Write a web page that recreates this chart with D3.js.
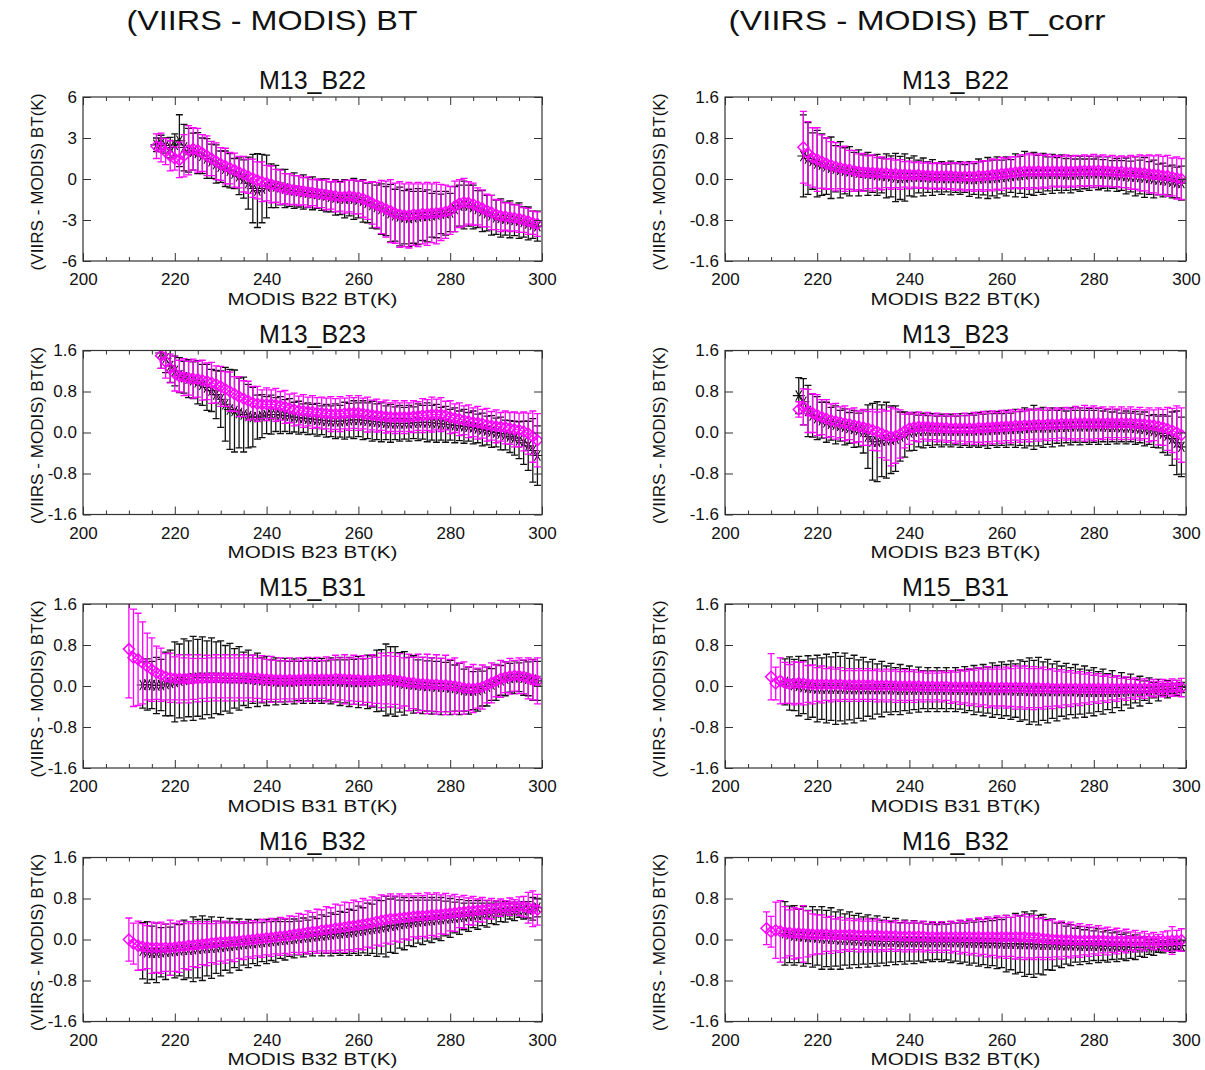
<!DOCTYPE html>
<html>
<head>
<meta charset="utf-8">
<script src="https://cdn.jsdelivr.net/npm/d3@7"></script>
<style>
  body { margin: 0; background: #fff; }
  svg { display: block; font-family: 'Liberation Sans', Arial, Helvetica, sans-serif; }
</style>
</head>
<body>
<svg id="chart" width="1205" height="1070"></svg>
<script>
// ---- labels / ticks ----
const columnTitles = ['(VIIRS - MODIS) BT', '(VIIRS - MODIS) BT_corr'];
const rowTitles = ['M13_B22', 'M13_B23', 'M15_B31', 'M16_B32'];
const modisBands = ['B22', 'B23', 'B31', 'B32'];
const xTicks = [200, 220, 240, 260, 280, 300];
const yTicksWide = [-6, -3, 0, 3, 6];
const yTicksNarrow = [-1.6, -0.8, 0, 0.8, 1.6];

// ---- M13_B22, BT (black = asterisks, pink = diamonds), 1 K bins ----
const b22BtBlackStart = 216;
const b22BtBlack = [2.5,2.6,2.45,2.3,2.5,2.8,2.3,2.1,2.0,1.9, 1.7,1.5,1.3,1.1,0.9,0.75,0.6,0.4,0.2,0.0,
  -0.3,-0.7,-0.85,-0.7,-0.55,-0.5,-0.55,-0.6,-0.7,-0.8, -0.85,-0.9,-0.95,-1.0,-1.05,-1.1,-1.15,-1.2,-1.3,-1.35,
  -1.4,-1.45,-1.4,-1.45,-1.5,-1.6,-1.75,-1.9,-2.05,-2.2, -2.35,-2.5,-2.65,-2.75,-2.8,-2.85,-2.8,-2.75,-2.7,-2.7,
  -2.65,-2.6,-2.55,-2.5,-2.45,-2.2,-1.95,-1.9,-1.95,-2.05, -2.2,-2.35,-2.5,-2.65,-2.8,-2.85,-2.9,-2.95,-3.0,-3.05,
  -3.15,-3.25,-3.35,-3.45];
const b22BtBlackSd = [0.5,0.6,0.55,0.75,0.8,1.9,1.7,1.6,1.35,1.5, 1.3,1.45,1.25,1.4,1.15,1.3,1.25,1.1,1.35,1.4,
  1.9,2.5,2.7,2.5,2.3,1.6,1.55,1.3,1.4,1.2, 1.3,1.15,1.25,1.1,1.2,1.05,1.15,1.2,1.1,1.3,
  1.2,1.4,1.3,1.5,1.35,1.55,1.45,1.7,1.6,1.85, 1.8,2.1,1.9,2.15,1.95,2.1,1.9,2.05,1.8,1.9,
  1.6,1.7,1.45,1.6,1.4,1.65,1.5,1.75,1.5,1.6, 1.35,1.5,1.3,1.45,1.25,1.4,1.2,1.35,1.15,1.3,
  1.1,1.2,1.0,1.1];
const b22BtPinkStart = 216;
const b22BtPink = [2.4,2.3,2.0,1.7,1.5,1.4,1.7,2.1,2.2,2.1, 1.9,1.7,1.5,1.3,1.1,0.95,0.8,0.65,0.5,0.35,
  0.2,0.05,-0.1,-0.2,-0.3,-0.4,-0.5,-0.6,-0.7,-0.75, -0.8,-0.85,-0.9,-0.95,-1.0,-1.05,-1.1,-1.15,-1.2,-1.25,
  -1.3,-1.3,-1.25,-1.3,-1.35,-1.45,-1.6,-1.75,-1.9,-2.05, -2.2,-2.35,-2.5,-2.6,-2.65,-2.65,-2.6,-2.6,-2.55,-2.55,
  -2.5,-2.5,-2.45,-2.4,-2.3,-2.0,-1.8,-1.7,-1.75,-1.85, -2.0,-2.15,-2.3,-2.45,-2.6,-2.7,-2.75,-2.8,-2.85,-2.9,
  -3.0,-3.1,-3.2,-3.3];
const b22BtPinkSd = [0.9,1.05,0.95,1.1,0.85,1.3,1.55,1.8,1.55,1.6, 1.35,1.45,1.25,1.35,1.2,1.3,1.15,1.25,1.15,1.3,
  1.25,1.4,1.35,1.45,1.3,1.35,1.2,1.25,1.1,1.15, 1.05,1.1,1.0,1.1,0.95,1.05,1.0,1.1,1.0,1.15,
  1.05,1.2,1.15,1.25,1.2,1.35,1.35,1.55,1.65,1.95, 2.05,2.3,2.2,2.4,2.3,2.4,2.25,2.35,2.2,2.3,
  2.15,2.25,2.05,1.95,1.75,1.85,1.75,1.75,1.55,1.55, 1.35,1.35,1.2,1.25,1.1,1.15,1.0,1.05,0.95,1.0,
  0.9,0.95,0.85,0.9];

// ---- M13_B22, BT_corr ----
const b22CorrBlackStart = 217;
const b22CorrBlack = [0.45,0.4,0.35,0.3,0.28,0.25,0.22,0.2,0.18,0.16, 0.15,0.14,0.12,0.12,0.1,0.1,0.08,0.07,0.06,0.05,
  0.03,0.02,0.03,0.04,0.05,0.05,0.04,0.04,0.03,0.03, 0.02,0.02,0.02,0.02,0.02,0.01,0.0,0.0,0.01,0.02,
  0.02,0.02,0.03,0.04,0.05,0.06,0.07,0.08,0.09,0.1, 0.1,0.1,0.1,0.1,0.1,0.1,0.1,0.09,0.09,0.09,
  0.1,0.1,0.11,0.11,0.11,0.1,0.1,0.09,0.08,0.07, 0.06,0.05,0.05,0.04,0.03,0.02,0.0,-0.01,-0.02,-0.03,
  -0.05,-0.07,-0.08];
const b22CorrBlackSd = [0.8,0.7,0.55,0.65,0.6,0.55,0.6,0.45,0.55,0.45, 0.48,0.38,0.45,0.35,0.42,0.36,0.4,0.34,0.43,0.4,
  0.47,0.42,0.46,0.37,0.4,0.32,0.37,0.3,0.35,0.28, 0.32,0.27,0.33,0.28,0.32,0.27,0.34,0.3,0.38,0.33,
  0.4,0.35,0.4,0.33,0.38,0.32,0.42,0.36,0.45,0.4, 0.42,0.36,0.4,0.33,0.38,0.32,0.37,0.31,0.36,0.3,
  0.34,0.29,0.33,0.28,0.32,0.28,0.33,0.27,0.32,0.29, 0.35,0.3,0.38,0.33,0.39,0.32,0.37,0.3,0.33,0.28,
  0.32,0.3,0.33];
const b22CorrPinkStart = 217;
const b22CorrPink = [0.62,0.5,0.42,0.38,0.34,0.3,0.27,0.24,0.22,0.2, 0.18,0.16,0.14,0.13,0.13,0.12,0.12,0.11,0.11,0.1,
  0.1,0.09,0.09,0.08,0.08,0.08,0.07,0.07,0.06,0.06, 0.06,0.06,0.06,0.05,0.05,0.05,0.05,0.05,0.06,0.06,
  0.07,0.08,0.09,0.1,0.11,0.12,0.13,0.14,0.15,0.15, 0.15,0.15,0.15,0.15,0.15,0.15,0.15,0.15,0.15,0.15,
  0.16,0.16,0.16,0.16,0.16,0.16,0.15,0.15,0.14,0.14, 0.13,0.13,0.12,0.12,0.11,0.1,0.09,0.08,0.07,0.06,
  0.04,0.02,0.0];
const b22CorrPinkSd = [0.7,0.62,0.58,0.62,0.52,0.5,0.46,0.47,0.41,0.44, 0.38,0.4,0.35,0.37,0.32,0.35,0.3,0.32,0.28,0.3,
  0.27,0.29,0.25,0.27,0.24,0.26,0.24,0.26,0.24,0.26, 0.24,0.26,0.25,0.27,0.25,0.28,0.26,0.29,0.27,0.3,
  0.28,0.31,0.29,0.32,0.29,0.31,0.3,0.33,0.32,0.35, 0.32,0.34,0.31,0.33,0.29,0.31,0.29,0.32,0.29,0.31,
  0.29,0.31,0.29,0.32,0.29,0.31,0.29,0.31,0.29,0.31, 0.3,0.33,0.32,0.35,0.34,0.37,0.36,0.39,0.37,0.4,
  0.37,0.41,0.4];

// ---- M13_B23, BT ----
const b23BtBlackStart = 217;
const b23BtBlack = [1.55,1.45,1.3,1.2,1.12,1.08,1.05,1.02,0.98,0.93, 0.88,0.82,0.74,0.65,0.55,0.45,0.42,0.38,0.35,0.32,
  0.3,0.3,0.32,0.34,0.35,0.35,0.34,0.33,0.32,0.3, 0.29,0.28,0.27,0.26,0.25,0.24,0.23,0.22,0.22,0.22,
  0.23,0.24,0.25,0.25,0.24,0.23,0.22,0.21,0.2,0.19, 0.18,0.18,0.18,0.18,0.18,0.19,0.2,0.2,0.2,0.19,
  0.18,0.17,0.16,0.15,0.14,0.13,0.12,0.11,0.1,0.08, 0.06,0.04,0.02,0.0,-0.02,-0.05,-0.08,-0.11,-0.15,-0.2,
  -0.26,-0.35,-0.45];
const b23BtBlackSd = [0.3,0.28,0.32,0.29,0.34,0.31,0.37,0.36,0.42,0.4, 0.45,0.41,0.47,0.55,0.72,0.78,0.8,0.68,0.73,0.62,
  0.58,0.43,0.42,0.36,0.38,0.33,0.36,0.31,0.34,0.29, 0.32,0.28,0.31,0.29,0.32,0.28,0.32,0.3,0.34,0.31,
  0.36,0.33,0.37,0.33,0.38,0.35,0.39,0.35,0.38,0.33, 0.37,0.32,0.35,0.31,0.35,0.31,0.36,0.33,0.38,0.34,
  0.37,0.32,0.35,0.3,0.34,0.29,0.33,0.28,0.32,0.28, 0.32,0.28,0.31,0.28,0.32,0.29,0.31,0.33,0.36,0.42,
  0.48,0.62,0.58];
const b23BtPinkStart = 217;
const b23BtPink = [1.5,1.38,1.25,1.15,1.1,1.08,1.06,1.05,1.04,1.02, 1.0,0.97,0.94,0.9,0.85,0.8,0.75,0.7,0.66,0.62,
  0.58,0.56,0.55,0.55,0.55,0.54,0.52,0.5,0.47,0.45, 0.43,0.42,0.41,0.4,0.39,0.38,0.37,0.36,0.36,0.36,
  0.37,0.38,0.38,0.38,0.37,0.35,0.34,0.33,0.32,0.31, 0.3,0.3,0.3,0.3,0.3,0.31,0.32,0.33,0.34,0.35,
  0.35,0.35,0.33,0.3,0.28,0.26,0.24,0.22,0.2,0.19, 0.17,0.15,0.13,0.12,0.11,0.1,0.08,0.06,0.05,0.02,
  -0.02,-0.08,-0.15];
const b23BtPinkSd = [0.25,0.32,0.28,0.34,0.31,0.36,0.33,0.38,0.35,0.39, 0.36,0.4,0.36,0.39,0.34,0.38,0.34,0.39,0.35,0.38,
  0.32,0.34,0.28,0.32,0.28,0.32,0.28,0.32,0.28,0.32, 0.28,0.32,0.28,0.32,0.29,0.31,0.3,0.34,0.3,0.34,
  0.3,0.34,0.3,0.34,0.3,0.34,0.29,0.32,0.28,0.32, 0.28,0.32,0.28,0.32,0.28,0.31,0.28,0.33,0.3,0.34,
  0.3,0.33,0.28,0.32,0.28,0.32,0.28,0.32,0.28,0.32, 0.28,0.32,0.28,0.32,0.28,0.32,0.31,0.34,0.33,0.38,
  0.4,0.5,0.52];

// ---- M13_B23, BT_corr ----
const b23CorrBlackStart = 216;
const b23CorrBlack = [0.72,0.6,0.42,0.33,0.28,0.24,0.2,0.17,0.15,0.13, 0.11,0.09,0.07,0.05,0.02,-0.08,-0.18,-0.18,-0.16,-0.15,
  -0.14,-0.12,-0.08,-0.04,0.0,0.02,0.03,0.04,0.04,0.04, 0.04,0.04,0.04,0.04,0.04,0.04,0.04,0.04,0.04,0.05,
  0.05,0.05,0.06,0.06,0.06,0.07,0.07,0.08,0.08,0.09, 0.09,0.1,0.1,0.1,0.1,0.1,0.11,0.11,0.11,0.12,
  0.12,0.12,0.12,0.12,0.12,0.12,0.12,0.11,0.11,0.11, 0.1,0.1,0.1,0.09,0.08,0.07,0.05,0.03,0.01,-0.02,
  -0.06,-0.12,-0.2,-0.28];
const b23CorrBlackSd = [0.35,0.45,0.5,0.42,0.42, 0.35,0.39,0.32,0.37,0.3,0.35,0.3,0.36,0.33,0.42,
  0.62,0.75,0.78,0.7,0.74,0.66,0.64,0.48,0.44,
  0.36,0.37,0.31,0.34,0.29,0.33,0.28,0.32,0.28,0.32,0.28,0.33,0.29,0.33,0.3,0.34,0.31,0.36,0.31,0.35,0.31,
  0.36,0.31,0.37,0.33,0.39,0.35,0.43,0.36,0.39,0.33,0.38,0.32,0.37,0.31,0.36,0.31,0.36,0.31,0.35,0.31,
  0.35,0.3,0.34,0.29,0.33,0.28,0.32,0.28,0.32,0.28,0.33,0.28,0.32,0.31,0.37,0.38,0.52,0.62,0.58];
const b23CorrPinkStart = 216;
const b23CorrPink = [0.45,0.5,0.42,0.38,0.34,0.3,0.27,0.24,0.22,0.2, 0.18,0.16,0.14,0.12,0.1,0.08,0.05,0.02,-0.02,-0.06,
  -0.08,-0.07,-0.03,0.03,0.08,0.1,0.11,0.11,0.11,0.1, 0.1,0.09,0.09,0.08,0.08,0.08,0.08,0.08,0.08,0.09,
  0.09,0.1,0.1,0.11,0.11,0.12,0.12,0.13,0.13,0.14, 0.14,0.15,0.15,0.15,0.16,0.16,0.16,0.17,0.17,0.17,
  0.18,0.18,0.18,0.18,0.18,0.18,0.18,0.18,0.18,0.18, 0.18,0.18,0.18,0.17,0.17,0.16,0.15,0.14,0.12,0.1,
  0.07,0.04,0.0,-0.05];
const b23CorrPinkSd = [0.15,0.35,0.42,0.38,0.4, 0.34,0.37,0.32,0.35,0.3,0.34,0.3,0.34,0.3,0.35,
  0.33,0.4,0.38,0.47,0.48,0.57,0.53,0.47,0.33,
  0.31,0.26,0.29,0.24,0.28,0.24,0.28,0.24,0.28,0.24,0.29,0.25,0.3,0.26,0.31,0.28,0.32,0.28,0.32,0.28,0.32,
  0.28,0.32,0.28,0.32,0.28,0.32,0.28,0.32,0.28,0.32,0.28,0.32,0.28,0.32,0.29,0.33,0.3,0.35,0.31,0.34,
  0.3,0.32,0.28,0.32,0.28,0.32,0.28,0.32,0.28,0.32,0.28,0.33,0.3,0.36,0.35,0.42,0.43,0.52,0.53];

// ---- M15_B31, BT ----
const b31BtBlackStart = 213;
const b31BtBlack = [0.02,0.03,0.02,0.01,0.02,0.04,0.06,0.08,
  0.1,0.12,0.14,0.15,0.16,0.16,0.16,0.16,0.16,0.16, 0.15,0.15,0.15,0.15,0.14,0.14,0.13,0.12,0.11,0.1,
  0.1,0.09,0.09,0.09,0.09,0.09,0.1,0.1,0.1,0.1, 0.1,0.1,0.1,0.1,0.1,0.09,0.09,0.08,0.08,0.08,
  0.08,0.08,0.09,0.1,0.11,0.12,0.11,0.09,0.07,0.05, 0.04,0.03,0.02,0.01,0.0,0.0,-0.01,-0.01,-0.02,-0.03,
  -0.04,-0.06,-0.08,-0.09,-0.09,-0.08,-0.05,-0.01,0.03,0.07, 0.11,0.14,0.16,0.17,0.17,0.16,0.14,0.12,0.1];
const b31BtBlackSd = [0.45,0.5,0.46,0.55,0.5,0.62,0.64,0.78,
  0.72,0.8,0.74,0.82,0.75,0.8,0.72,0.78,0.7,0.72, 0.64,0.68,0.58,0.62,0.52,0.56,0.47,0.52,0.44,0.48,
  0.41,0.46,0.4,0.45,0.39,0.44,0.38,0.44,0.39,0.44, 0.38,0.44,0.39,0.45,0.41,0.47,0.42,0.48,0.44,0.5,
  0.45,0.52,0.5,0.6,0.6,0.7,0.66,0.68,0.58,0.62, 0.52,0.56,0.49,0.55,0.49,0.55,0.49,0.55,0.48,0.53,
  0.45,0.5,0.41,0.46,0.37,0.41,0.34,0.38,0.31,0.35, 0.29,0.33,0.28,0.32,0.28,0.34,0.33,0.4,0.38];
const b31BtPinkStart = 210;
const b31BtPink = [0.72,0.55,0.52,0.45,0.38,0.32,0.26,0.22,0.18,0.16, 0.15,0.14,0.14,0.14,0.14,0.15,0.15,0.15,0.16,0.16,
  0.16,0.16,0.16,0.16,0.16,0.16,0.16,0.15,0.15,0.14, 0.13,0.13,0.12,0.12,0.12,0.12,0.12,0.12,0.13,0.13,
  0.13,0.13,0.13,0.13,0.13,0.14,0.14,0.13,0.13,0.12, 0.12,0.11,0.11,0.11,0.11,0.11,0.12,0.12,0.11,0.1,
  0.08,0.07,0.06,0.05,0.04,0.04,0.03,0.03,0.02,0.02, 0.01,0.0,-0.02,-0.04,-0.05,-0.05,-0.04,-0.02,0.02,0.06,
  0.1,0.14,0.17,0.19,0.2,0.2,0.18,0.15,0.12,0.1];
const b31BtPinkSd = [0.95,0.95,0.9,0.8,0.65,0.62,0.52,0.52,0.45,0.48, 0.42,0.47,0.41,0.47,0.4,0.46,0.39,0.45,0.39,0.45,
  0.39,0.45,0.39,0.45,0.39,0.45,0.39,0.45,0.39,0.45, 0.39,0.45,0.38,0.43,0.37,0.43,0.37,0.43,0.37,0.43,
  0.37,0.43,0.37,0.44,0.39,0.46,0.41,0.48,0.42,0.48, 0.42,0.48,0.43,0.5,0.45,0.53,0.47,0.53,0.47,0.53,
  0.47,0.55,0.5,0.57,0.52,0.58,0.52,0.58,0.52,0.58, 0.51,0.55,0.47,0.51,0.43,0.47,0.39,0.43,0.35,0.39,
  0.31,0.36,0.3,0.35,0.3,0.35,0.33,0.4,0.39,0.45];

// ---- M15_B31, BT_corr ----
const b31CorrBlackStart = 213;
const b31CorrBlack = [0.08,0.05,0.02,0.0,-0.02,-0.03,-0.04,-0.05,
  -0.05,-0.05,-0.05,-0.05,-0.05,-0.05,-0.06,-0.06,-0.06,-0.06, -0.06,-0.06,-0.06,-0.06,-0.06,-0.06,-0.07,-0.07,-0.07,-0.07,
  -0.07,-0.07,-0.07,-0.07,-0.07,-0.07,-0.07,-0.07,-0.07,-0.07, -0.07,-0.07,-0.08,-0.08,-0.08,-0.08,-0.08,-0.08,-0.08,-0.08,
  -0.08,-0.08,-0.09,-0.09,-0.09,-0.1,-0.1,-0.1,-0.1,-0.1, -0.1,-0.1,-0.1,-0.1,-0.1,-0.1,-0.11,-0.11,-0.11,-0.11,
  -0.11,-0.11,-0.11,-0.11,-0.11,-0.11,-0.1,-0.1,-0.1,-0.1, -0.09,-0.09,-0.08,-0.08,-0.07,-0.06,-0.05,-0.04,-0.03];
const b31CorrBlackSd = [0.45,0.52,0.5,0.58,0.52,0.62,0.57,0.65,
  0.6,0.67,0.62,0.7,0.63,0.69,0.6,0.66,0.57,0.62, 0.53,0.58,0.49,0.54,0.45,0.5,0.43,0.49,0.41,0.46,
  0.39,0.44,0.37,0.43,0.37,0.43,0.37,0.43,0.37,0.43, 0.38,0.45,0.4,0.48,0.43,0.5,0.45,0.53,0.48,0.55,
  0.5,0.57,0.52,0.6,0.57,0.65,0.6,0.66,0.57,0.62, 0.53,0.58,0.49,0.54,0.46,0.52,0.44,0.5,0.42,0.47,
  0.39,0.44,0.35,0.41,0.31,0.37,0.27,0.33,0.23,0.29, 0.19,0.25,0.15,0.21,0.12,0.17,0.1,0.15,0.1];
const b31CorrPinkStart = 210;
const b31CorrPink = [0.18,0.05,0.1,0.06,0.04,0.05,0.06,0.05,0.04,0.03,0.03,
  0.03,0.03,0.03,0.03,0.03,0.02,0.02,0.02,0.02,0.02, 0.02,0.02,0.01,0.01,0.01,0.01,0.0,0.0,0.0,0.0,
  0.0,0.0,-0.01,-0.01,-0.01,-0.01,-0.01,-0.01,-0.02,-0.02, -0.02,-0.02,-0.02,-0.02,-0.02,-0.02,-0.02,-0.03,-0.03,-0.03,
  -0.03,-0.03,-0.03,-0.03,-0.03,-0.04,-0.04,-0.04,-0.04,-0.04, -0.05,-0.05,-0.05,-0.05,-0.05,-0.05,-0.05,-0.05,-0.05,-0.05,
  -0.05,-0.05,-0.05,-0.05,-0.05,-0.05,-0.05,-0.05,-0.05,-0.05, -0.05,-0.05,-0.04,-0.04,-0.04,-0.04,-0.03,-0.03,-0.03];
const b31CorrPinkSd = [0.45,0.32,0.45,0.4,0.38,0.42,0.4,0.42,0.36,0.38,0.33,
  0.36,0.31,0.34,0.3,0.33,0.28,0.32,0.28,0.32,0.28, 0.32,0.28,0.32,0.28,0.32,0.28,0.32,0.28,0.32,0.28,
  0.32,0.27,0.3,0.26,0.3,0.26,0.3,0.27,0.32,0.29, 0.34,0.31,0.36,0.33,0.38,0.35,0.4,0.36,0.4,0.36,
  0.4,0.37,0.42,0.38,0.42,0.38,0.42,0.38,0.41,0.36, 0.39,0.34,0.37,0.32,0.35,0.3,0.33,0.28,0.31,0.26,
  0.29,0.24,0.27,0.22,0.25,0.2,0.23,0.18,0.21,0.16, 0.19,0.14,0.17,0.13,0.17,0.13,0.17,0.14,0.18];

// ---- M16_B32, BT ----
const b32BtBlackStart = 213;
const b32BtBlack = [-0.22,-0.25,-0.26,-0.26,-0.25,-0.24,-0.23,-0.22,
  -0.21,-0.2,-0.2,-0.19,-0.18,-0.17,-0.16,-0.16,-0.15,-0.14, -0.13,-0.12,-0.11,-0.1,-0.09,-0.08,-0.07,-0.06,-0.05,-0.04,
  -0.03,-0.02,-0.01,0.0,0.01,0.02,0.03,0.04,0.05,0.06, 0.07,0.08,0.09,0.1,0.11,0.12,0.13,0.14,0.15,0.17,
  0.18,0.2,0.21,0.22,0.24,0.25,0.27,0.28,0.3,0.31, 0.32,0.34,0.35,0.36,0.37,0.38,0.39,0.4,0.41,0.42,
  0.43,0.44,0.45,0.46,0.47,0.48,0.49,0.5,0.51,0.52, 0.53,0.54,0.55,0.55,0.56,0.57,0.58,0.6,0.62];
const b32BtBlackSd = [0.55,0.6,0.52,0.58,0.48,0.54,0.47,0.53,
  0.5,0.58,0.55,0.63,0.57,0.63,0.55,0.6,0.51,0.57, 0.47,0.53,0.44,0.5,0.41,0.47,0.4,0.45,0.38,0.43,
  0.38,0.42,0.36,0.4,0.34,0.38,0.33,0.38,0.33,0.38, 0.34,0.4,0.36,0.42,0.38,0.43,0.4,0.45,0.42,0.48,
  0.44,0.51,0.48,0.55,0.52,0.59,0.52,0.55,0.47,0.51, 0.44,0.48,0.42,0.46,0.4,0.44,0.38,0.42,0.34,0.38,
  0.3,0.34,0.26,0.3,0.24,0.28,0.22,0.26,0.2,0.23, 0.18,0.2,0.15,0.18,0.13,0.17,0.16,0.22,0.18];
const b32BtPinkStart = 210;
const b32BtPink = [0.0,-0.08,-0.12,-0.14,-0.15,-0.16,-0.16,-0.16,-0.16,-0.16,-0.15,
  -0.14,-0.13,-0.12,-0.11,-0.1,-0.09,-0.08,-0.07,-0.06,-0.05, -0.05,-0.04,-0.04,-0.03,-0.02,-0.01,0.0,0.01,0.02,0.03,
  0.04,0.05,0.06,0.07,0.08,0.1,0.11,0.12,0.14,0.15, 0.16,0.18,0.19,0.2,0.22,0.23,0.24,0.26,0.27,0.28,
  0.3,0.31,0.33,0.35,0.37,0.39,0.4,0.41,0.42,0.43, 0.44,0.45,0.46,0.46,0.47,0.48,0.48,0.49,0.5,0.51,
  0.52,0.53,0.54,0.55,0.56,0.57,0.58,0.59,0.6,0.61, 0.62,0.63,0.64,0.65,0.65,0.64,0.62,0.6,0.58];
const b32BtPinkSd = [0.42,0.4,0.48,0.45,0.42,0.5,0.48,0.5,0.46,0.54,0.47,
  0.5,0.44,0.47,0.42,0.45,0.4,0.43,0.38,0.42,0.37, 0.41,0.36,0.39,0.34,0.37,0.33,0.37,0.33,0.37,0.33,
  0.37,0.33,0.37,0.34,0.38,0.35,0.4,0.37,0.42,0.38, 0.43,0.4,0.45,0.42,0.47,0.44,0.49,0.46,0.5,0.46,
  0.5,0.46,0.5,0.46,0.5,0.46,0.49,0.44,0.47,0.42, 0.45,0.4,0.44,0.4,0.44,0.4,0.43,0.38,0.4,0.34,
  0.36,0.3,0.32,0.26,0.28,0.22,0.24,0.18,0.2,0.15, 0.17,0.13,0.17,0.13,0.18,0.2,0.3,0.35,0.3];

// ---- M16_B32, BT_corr ----
const b32CorrBlackStart = 213;
const b32CorrBlack = [0.12,0.1,0.08,0.07,0.06,0.05,0.05,0.04,
  0.03,0.02,0.02,0.01,0.0,0.0,-0.01,-0.01,-0.02,-0.02, -0.03,-0.03,-0.03,-0.04,-0.04,-0.04,-0.04,-0.05,-0.05,-0.05,
  -0.05,-0.05,-0.05,-0.05,-0.05,-0.05,-0.05,-0.05,-0.05,-0.05, -0.05,-0.06,-0.06,-0.06,-0.06,-0.07,-0.07,-0.07,-0.07,-0.08,
  -0.08,-0.08,-0.08,-0.09,-0.09,-0.09,-0.09,-0.1,-0.1,-0.1, -0.1,-0.1,-0.11,-0.11,-0.11,-0.11,-0.12,-0.12,-0.12,-0.12,
  -0.12,-0.13,-0.13,-0.13,-0.14,-0.14,-0.14,-0.15,-0.15,-0.15, -0.15,-0.15,-0.15,-0.15,-0.14,-0.14,-0.13,-0.12,-0.12];
const b32CorrBlackSd = [0.62,0.55,0.58,0.52,0.58,0.52,0.59,0.54,
  0.61,0.55,0.6,0.53,0.58,0.5,0.55,0.48,0.53,0.46, 0.51,0.44,0.49,0.42,0.47,0.4,0.45,0.38,0.43,0.37,
  0.42,0.37,0.4,0.35,0.38,0.34,0.38,0.35,0.4,0.37, 0.42,0.38,0.44,0.4,0.46,0.42,0.48,0.44,0.5,0.47,
  0.55,0.51,0.59,0.55,0.63,0.59,0.65,0.57,0.59,0.49, 0.5,0.42,0.44,0.37,0.4,0.33,0.37,0.31,0.35,0.29,
  0.33,0.28,0.31,0.26,0.29,0.24,0.27,0.22,0.24,0.18, 0.2,0.14,0.16,0.1,0.12,0.08,0.12,0.08,0.1];
const b32CorrPinkStart = 209;
const b32CorrPink = [0.22,0.15,0.18,0.16,0.14,0.13,0.12,0.12,0.11,0.11,0.1,0.1,
  0.1,0.1,0.09,0.09,0.09,0.09,0.09,0.09,0.08,0.08, 0.08,0.08,0.08,0.07,0.07,0.07,0.07,0.06,0.06,0.06,
  0.06,0.06,0.06,0.05,0.05,0.05,0.05,0.05,0.05,0.05, 0.05,0.05,0.05,0.05,0.05,0.05,0.05,0.05,0.05,0.05,
  0.05,0.05,0.05,0.05,0.05,0.04,0.04,0.03,0.02,0.01, 0.0,0.0,-0.01,-0.01,-0.01,-0.02,-0.02,-0.02,-0.02,-0.02,
  -0.02,-0.02,-0.03,-0.03,-0.03,-0.03,-0.03,-0.03,-0.03,-0.03, -0.03,-0.03,-0.03,-0.03,-0.03,-0.03,-0.02,-0.02,-0.01];
const b32CorrPinkSd = [0.32,0.3,0.55,0.6,0.5,0.45,0.5,0.48,0.55,0.45,0.4,0.38,
  0.38,0.33,0.36,0.31,0.34,0.29,0.32,0.28,0.32,0.28, 0.32,0.28,0.32,0.27,0.3,0.26,0.3,0.26,0.3,0.26,
  0.3,0.26,0.3,0.26,0.3,0.26,0.3,0.26,0.31,0.28, 0.33,0.3,0.35,0.32,0.37,0.34,0.39,0.36,0.41,0.38,
  0.42,0.38,0.43,0.4,0.44,0.4,0.43,0.38,0.41,0.36, 0.39,0.34,0.37,0.32,0.35,0.3,0.33,0.28,0.31,0.26,
  0.29,0.24,0.27,0.22,0.25,0.2,0.23,0.18,0.21,0.16, 0.19,0.14,0.17,0.13,0.18,0.2,0.27,0.2,0.22];

// one entry per panel: [start, mean, sd] for each series
const panels = [
  { row: 0, col: 0, black: [b22BtBlackStart, b22BtBlack, b22BtBlackSd], pink: [b22BtPinkStart, b22BtPink, b22BtPinkSd] },
  { row: 0, col: 1, black: [b22CorrBlackStart, b22CorrBlack, b22CorrBlackSd], pink: [b22CorrPinkStart, b22CorrPink, b22CorrPinkSd] },
  { row: 1, col: 0, black: [b23BtBlackStart, b23BtBlack, b23BtBlackSd], pink: [b23BtPinkStart, b23BtPink, b23BtPinkSd] },
  { row: 1, col: 1, black: [b23CorrBlackStart, b23CorrBlack, b23CorrBlackSd], pink: [b23CorrPinkStart, b23CorrPink, b23CorrPinkSd] },
  { row: 2, col: 0, black: [b31BtBlackStart, b31BtBlack, b31BtBlackSd], pink: [b31BtPinkStart, b31BtPink, b31BtPinkSd] },
  { row: 2, col: 1, black: [b31CorrBlackStart, b31CorrBlack, b31CorrBlackSd], pink: [b31CorrPinkStart, b31CorrPink, b31CorrPinkSd] },
  { row: 3, col: 0, black: [b32BtBlackStart, b32BtBlack, b32BtBlackSd], pink: [b32BtPinkStart, b32BtPink, b32BtPinkSd] },
  { row: 3, col: 1, black: [b32CorrBlackStart, b32CorrBlack, b32CorrBlackSd], pink: [b32CorrPinkStart, b32CorrPink, b32CorrPinkSd] },
];

// Layout / style values
const colLeft = [83, 725];
const colRight = [542, 1186];
const colTitleX = [272, 917];
const colTitleLen = [291, 377];
const yTitleX = [43, 665];
const rowTop0 = 97;
const rowStep = 253.5;
const plotH = 164;
const tickFont = 17;
const pinkColor = '#ff00ff';
const inkColor = '#111';
const axisColor = '#333';
const capHalf = 3.5;

const svg = d3.select('#chart');

svg.selectAll('.col-title')
  .data(columnTitles)
  .enter()
  .append('text')
  .attr('class', 'col-title')
  .attr('x', (d, i) => colTitleX[i])
  .attr('y', 30)
  .attr('text-anchor', 'middle')
  .attr('font-size', 28)
  .attr('textLength', (d, i) => colTitleLen[i])
  .attr('lengthAdjust', 'spacingAndGlyphs')
  .attr('fill', '#111')
  .text((d) => d);

const asteriskPath = (s) => {
  const a = s * 0.5, b = s * 0.87;
  return `M${-s},0L${s},0M${-a},${-b}L${a},${b}M${-a},${b}L${a},${-b}`;
};
const diamondPath = (s) => `M0,${-s}L${s},0L0,${s}L${-s},0Z`;

function drawSeries(g, x, y, series, color, kind) {
  const [start, means, sds] = series;
  const pts = means.map((v, i) => ({ t: start + i, v, sd: sds[i] }));

  // error bars
  g.append('g')
    .attr('stroke', color)
    .attr('stroke-width', 1.3)
    .attr('fill', 'none')
    .selectAll('path')
    .data(pts)
    .enter()
    .append('path')
    .attr('d', (d) => {
      const cx = x(d.t), lo = y(d.v - d.sd), hi = y(d.v + d.sd);
      return `M${cx},${lo}L${cx},${hi}M${cx - capHalf},${hi}L${cx + capHalf},${hi}M${cx - capHalf},${lo}L${cx + capHalf},${lo}`;
    });

  // pink points are joined by a thin line
  if (kind === 'diamond') {
    g.append('path')
      .datum(pts)
      .attr('fill', 'none')
      .attr('stroke', color)
      .attr('stroke-width', 1)
      .attr('d', d3.line().x((d) => x(d.t)).y((d) => y(d.v)));
  }

  // symbols
  const shape = kind === 'asterisk' ? asteriskPath(6) : diamondPath(5.5);
  g.append('g')
    .attr('stroke', color)
    .attr('stroke-width', kind === 'asterisk' ? 1.1 : 1.5)
    .attr('fill', 'none')
    .selectAll('path')
    .data(pts)
    .enter()
    .append('path')
    .attr('transform', (d) => `translate(${x(d.t)},${y(d.v)})`)
    .attr('d', shape);
}

function styleAxis(sel) {
  sel.select('.domain').remove();
  sel.attr('font-family', null).attr('font-size', tickFont).attr('color', axisColor);
  sel.selectAll('text').attr('fill', '#111');
}

panels.forEach((p) => {
  const x0 = colLeft[p.col], x1 = colRight[p.col];
  const y0 = rowTop0 + p.row * rowStep, y1 = y0 + plotH;
  const wide = p.row === 0 && p.col === 0;
  const yTicks = wide ? yTicksWide : yTicksNarrow;
  const yFmt = wide ? (d) => String(d) : (d) => d.toFixed(1);

  const x = d3.scaleLinear().domain([200, 300]).range([x0, x1]);
  const y = d3.scaleLinear().domain(d3.extent(yTicks)).range([y1, y0]);

  const g = svg.append('g').attr('class', 'panel');
  const clipId = `clip-${p.row}-${p.col}`;
  g.append('clipPath').attr('id', clipId)
    .append('rect').attr('x', x0).attr('y', y0).attr('width', x1 - x0).attr('height', plotH);

  const plot = g.append('g').attr('clip-path', `url(#${clipId})`);
  drawSeries(plot, x, y, p.black, inkColor, 'asterisk');
  drawSeries(plot, x, y, p.pink, pinkColor, 'diamond');

  // axes, ticks pointing inward on all four sides
  const minor = d3.range(205, 300, 5).filter((v) => v % 20 !== 0);
  g.append('g').attr('transform', `translate(0,${y1})`)
    .call(d3.axisBottom(x).tickValues(xTicks).tickSize(-8).tickSizeOuter(0).tickPadding(12.4).tickFormat((d) => d))
    .call(styleAxis);
  g.append('g').attr('transform', `translate(0,${y1})`)
    .call(d3.axisBottom(x).tickValues(minor).tickSize(-4).tickSizeOuter(0).tickFormat(''))
    .call(styleAxis);
  g.append('g').attr('transform', `translate(0,${y0})`)
    .call(d3.axisTop(x).tickValues(xTicks).tickSize(-8).tickSizeOuter(0).tickFormat(''))
    .call(styleAxis);
  g.append('g').attr('transform', `translate(0,${y0})`)
    .call(d3.axisTop(x).tickValues(minor).tickSize(-4).tickSizeOuter(0).tickFormat(''))
    .call(styleAxis);
  g.append('g').attr('transform', `translate(${x0},0)`)
    .call(d3.axisLeft(y).tickValues(yTicks).tickSize(-8).tickSizeOuter(0).tickPadding(6).tickFormat(yFmt))
    .call(styleAxis);
  g.append('g').attr('transform', `translate(${x1},0)`)
    .call(d3.axisRight(y).tickValues(yTicks).tickSize(-8).tickSizeOuter(0).tickFormat(''))
    .call(styleAxis);

  g.append('rect')
    .attr('x', x0).attr('y', y0).attr('width', x1 - x0).attr('height', plotH)
    .attr('fill', 'none').attr('stroke', axisColor).attr('stroke-width', 1.2);

  // titles
  g.append('text')
    .attr('x', (x0 + x1) / 2).attr('y', y0 - 8)
    .attr('text-anchor', 'middle').attr('font-size', 25).attr('fill', '#111')
    .text(rowTitles[p.row]);
  g.append('text')
    .attr('x', (x0 + x1) / 2).attr('y', y1 + 43.5)
    .attr('text-anchor', 'middle').attr('font-size', 17).attr('fill', '#111')
    .attr('textLength', 170).attr('lengthAdjust', 'spacingAndGlyphs')
    .text(`MODIS ${modisBands[p.row]} BT(K)`);
  g.append('text')
    .attr('transform', `translate(${yTitleX[p.col]},${(y0 + y1) / 2 + 3}) rotate(-90)`)
    .attr('text-anchor', 'middle').attr('font-size', 17).attr('fill', '#111')
    .attr('textLength', 177).attr('lengthAdjust', 'spacingAndGlyphs')
    .text('(VIIRS - MODIS) BT(K)');
});
</script>
</body>
</html>
